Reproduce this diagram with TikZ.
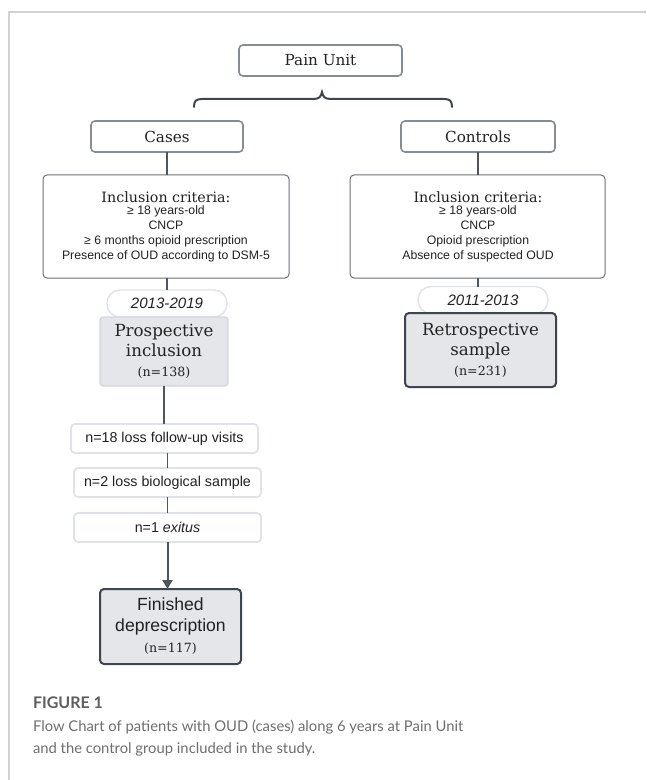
\documentclass[tikz,border=0pt]{standalone}
\usepackage{fontspec}
\usetikzlibrary{arrows.meta}
\newfontfamily\boxserif{DejaVu Serif}
\newfontfamily\boxsans{Liberation Sans}
\newfontfamily\capfont{Lato}
\newdimen\upx \upx=0.75pt
\definecolor{framegray}{HTML}{D2D2D2}
\definecolor{midborder}{HTML}{868C94}
\definecolor{thinborder}{HTML}{6A6F76}
\definecolor{paleborder}{HTML}{DFE3E8}
\definecolor{softborder}{HTML}{D3D7DC}
\definecolor{darkborder}{HTML}{3F454E}
\definecolor{boxfill}{HTML}{E4E6EA}
\definecolor{linkgray}{HTML}{4F555D}
\definecolor{inkgray}{HTML}{222222}
\definecolor{capgray}{HTML}{5E5E5E}
\definecolor{captext}{HTML}{6E6E6E}
\newcommand{\bigserif}{\boxserif\fontsize{12.5}{15}\selectfont}
\newcommand{\bigsans}{\boxsans\fontsize{13.2}{15.8}\selectfont}
\newcommand{\countserif}{\boxserif\fontsize{9.5}{15}\selectfont}
\tikzset{
  x=0.75pt, y=-0.75pt,
  every node/.style={inner sep=0pt, outer sep=0pt, text=inkgray, align=center},
  headbox/.style={draw=midborder, line width=1.6\upx, rounded corners=4\upx, fill=white,
    minimum height=31\upx, font=\boxserif\fontsize{11.4}{13}\selectfont},
  critbox/.style={draw=thinborder, line width=1\upx, rounded corners=4\upx, fill=white,
    minimum height=103\upx},
  crithead/.style={font=\boxserif\fontsize{10.7}{13}\selectfont},
  crittext/.style={font=\boxsans\fontsize{9.2}{11.25}\selectfont},
  yearpill/.style={draw=paleborder, line width=1.4\upx, rounded corners=13\upx, fill=white,
    minimum height=27\upx, font=\boxsans\itshape\fontsize{11.3}{13}\selectfont},
  softbox/.style={draw=softborder, line width=1.2\upx, rounded corners=3\upx, fill=boxfill,
    font=\bigserif},
  hardbox/.style={draw=darkborder, line width=2\upx, rounded corners=4\upx, fill=boxfill,
    font=\bigserif},
  lossbox/.style={draw=paleborder, line width=1.8\upx, rounded corners=4\upx, fill=white,
    minimum width=187\upx, minimum height=29\upx, font=\boxsans\fontsize{10.7}{13}\selectfont},
  link/.style={draw=linkgray, line width=1.3\upx},
  boldlink/.style={draw=linkgray, line width=2\upx},
}
\begin{document}
\begin{tikzpicture}
\useasboundingbox (0,0) rectangle (646,780);
% outer frame (top and left rules)
\draw[framegray, line width=2\upx] (646,12) -- (9,12) -- (9,780);

% top level
\node[headbox, minimum width=163\upx] (pain) at (320.5,60.5) {Pain Unit};
\draw[darkborder, line width=2\upx, line cap=round]
  (194,107) .. controls (194,101) and (196,99) .. (202,99) -- (313,99)
  .. controls (319,99) and (321,97) .. (322,92)
  .. controls (323,97) and (325,99) .. (331,99) -- (444,99)
  .. controls (450,99) and (452,101) .. (452,107);

\node[headbox, minimum width=152\upx] (cases) at (167,136.5) {Cases};
\node[headbox, minimum width=154\upx] (controls) at (478,136.5) {Controls};

% inclusion criteria
\node[critbox, minimum width=246\upx] (critL) at (166,226.5) {};
\node[critbox, minimum width=255\upx] (critR) at (477.5,226.5) {};
\node[crithead] (critLhead) at (166,197) {Inclusion criteria:};
\node[crithead] (critRhead) at (478,197) {Inclusion criteria:};
\node[crittext] (critLtxt) at (166,233.5) {%
  ≥ 18 years-old\\
  CNCP\\
  ≥ 6 months opioid prescription\\
  Presence of OUD according to DSM-5};
\node[crittext] (critRtxt) at (478,233.5) {%
  ≥ 18 years-old\\
  CNCP\\
  Opioid prescription\\
  Absence of suspected OUD};

\draw[link] (cases.south) -- (cases.south |- critL.north);
\draw[link] (controls.south) -- (controls.south |- critR.north);

% study periods
\node[yearpill, minimum width=120\upx] (yearL) at (167,303.5) {2013-2019};
\node[yearpill, minimum width=130\upx] (yearR) at (483,300) {2011-2013};
\draw[link] (critL.south -| yearL.north) -- (yearL.north);
\draw[link] (critR.south -| controls.south) -- (controls.south |- yearR.north);

% samples
\node[softbox, minimum width=128\upx, minimum height=69\upx] (prosp) at (164,351.5) {%
  Prospective\\
  inclusion\\
  \countserif (n=138)};
\node[hardbox, minimum width=151\upx, minimum height=74\upx] (retro) at (480.5,350) {%
  Retrospective\\
  sample\\
  \countserif (n=231)};

% losses
\node[lossbox] (loss1) at (164.5,438.5) {n=18 loss follow-up visits};
\node[lossbox] (loss2) at (167.5,482.5) {n=2 loss biological sample};
\node[lossbox] (loss3) at (167.5,527.5) {n=1 \textit{exitus}};

\draw[boldlink] (prosp.south) -- (prosp.south |- loss1.north);
\draw[link] (loss1.south -| loss2.north) -- (loss2.north);
\draw[link] (loss2.south) -- (loss3.north);

\node[hardbox, font=\bigsans, minimum width=141\upx, minimum height=75\upx] (done) at (170.5,626.5) {%
  Finished\\
  deprescription\\
  \countserif (n=117)};
\draw[boldlink, -{Triangle[length=6.75pt, width=7.5pt]}] (loss3.south) -- (loss3.south |- done.north);

% caption
\node[anchor=west, text=capgray, font=\capfont\bfseries\fontsize{12}{14}\selectfont] (figlabel) at (33,703) {FIGURE 1};
\node[anchor=west, text=captext, font=\capfont\fontsize{11.1}{16.5}\selectfont, align=left] (figtext) at (33,738)
  {Flow Chart of patients with OUD (cases) along 6 years at Pain Unit\\and the control group included in the study.};
\end{tikzpicture}
\end{document}
